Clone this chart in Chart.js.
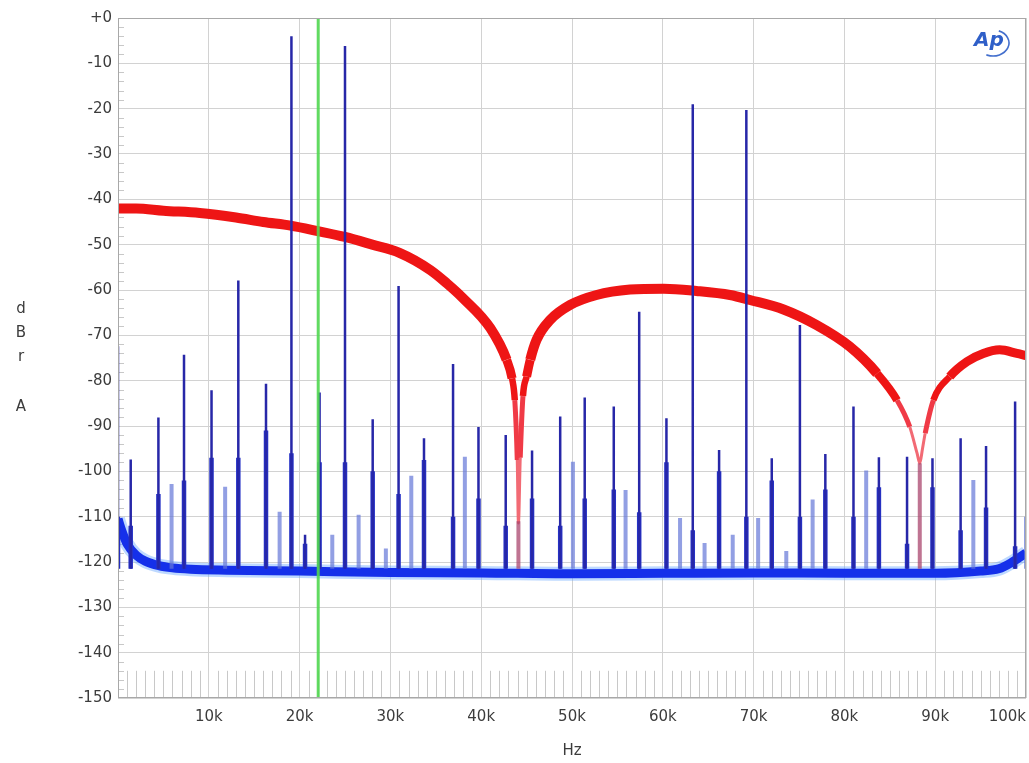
<!DOCTYPE html>
<html>
<head>
<meta charset="utf-8">
<script src="https://cdn.jsdelivr.net/npm/chart.js@4.4.1/dist/chart.umd.min.js"></script>
<style>
  html, body { margin: 0; padding: 0; background: #fff; }
  #wrap { width: 1029px; height: 763px; }
</style>
</head>
<body>
<div id="wrap"><canvas id="fft" width="1029" height="763"></canvas></div>
<script>
// values: frequencies in kHz, levels in dBrA

// red trace (noise band with nulls at 44.1k / 88.2k)
const redFreqs  = [0, 2, 5, 9, 13, 16, 19, 22, 25, 28, 31, 34.4, 36.2, 38, 41, 42.8, 43.4, 43.7, 43.97, 44.1, 44.3, 44.6, 45.0, 45.4, 46.1, 47.6, 49.8, 52.7, 56.4, 60.1, 63.7, 67.4, 69.6, 73.3, 76.9, 80.6, 83.6, 85.8, 87.2, 88.0, 88.3, 88.6, 88.9, 89.8, 91.6, 93.5, 95.3, 97.1, 99, 100];
const redLevels = [-42, -42, -42.5, -43, -44, -45, -45.8, -47, -48.3, -50, -51.8, -55.6, -58.5, -61.8, -68.4, -75.4, -79.5, -84.3, -97.5, -111.4, -97, -83.4, -79.1, -75.4, -71, -66.6, -63.3, -61.1, -59.9, -59.7, -60.2, -61.1, -62.2, -64.3, -67.7, -72.5, -78.4, -84.3, -90.2, -96, -98.2, -95, -91.6, -84.3, -79.1, -75.8, -74, -73.2, -74, -74.5];
const redDc = [-42, -33.5];

// blue noise floor
const floorFreqs  = [0, 0.4, 1, 2, 3, 4.5, 6, 8, 12, 20, 30, 40, 50, 60, 70, 80, 90, 95, 97, 98.5, 100];
const floorLevels = [-110.5, -113, -116, -118.5, -119.8, -120.8, -121.3, -121.6, -121.8, -122, -122.3, -122.4, -122.6, -122.5, -122.4, -122.5, -122.5, -122, -121.5, -120, -118];

// main (dark) spikes and the wider skirt at their base
const spikeFreqs  = [0, 1.4, 4.45, 7.27, 10.3, 13.25, 16.3, 19.1, 20.6, 22.2, 25.0, 28.05, 30.9, 33.7, 36.9, 39.7, 42.7, 45.6, 48.7, 51.4, 54.6, 57.4, 60.4, 63.3, 66.2, 69.2, 72.0, 75.1, 77.9, 81.0, 83.8, 86.9, 89.7, 92.8, 95.6, 98.8];
const spikeLevels = [-72.4, -97.4, -88.1, -74.3, -82.1, -57.9, -80.7, -4.0, -114, -82.6, -6.2, -88.5, -59.1, -92.7, -76.3, -90.2, -92.0, -95.4, -87.9, -83.7, -85.7, -64.8, -88.3, -19.0, -95.3, -20.3, -97.1, -67.7, -96.2, -85.7, -96.9, -96.8, -97.1, -92.7, -94.4, -84.6];
const skirtLevels = [-110, -112, -105, -102, -97, -97, -91, -96, -116, -98, -98, -100, -105, -97.5, -110, -106, -112, -106, -112, -106, -104, -109, -98, -113, -100, -110, -102, -110, -104, -110, -103.5, -116, -103.5, -113, -108, -116.5];

// pale secondary spikes
const paleFreqs  = [5.9, 11.8, 17.8, 23.6, 26.5, 29.5, 32.3, 38.2, 50.1, 55.9, 61.9, 64.6, 67.7, 70.5, 73.6, 76.5, 82.4, 94.2, 100];
const paleLevels = [-102.8, -103.4, -108.9, -114, -109.6, -117, -101, -96.8, -97.9, -104.1, -110.3, -115.8, -114, -110.3, -117.6, -106.2, -99.8, -101.9, -110];

// residue inside the red nulls
const nullFreqs  = [44.1, 88.3];
const nullLevels = [-111, -98.2];

const markerFreq = 22.05;   // green cursor
const spikeBase = -121.5;

const xTicks = [0, 10, 20, 30, 40, 50, 60, 70, 80, 90, 100];
const yTicks = [0, -10, -20, -30, -40, -50, -60, -70, -80, -90, -100, -110, -120, -130, -140, -150];

const pts = (fs, ls) => fs.map((f, i) => ({ x: f * 1000, y: ls[i] }));
function stems(fs, tops, bases) {
  const out = [];
  fs.forEach((f, i) => {
    const b = Array.isArray(bases) ? bases[i] : bases;
    out.push({ x: f * 1000, y: b }, { x: f * 1000, y: tops[i] }, { x: f * 1000, y: null });
  });
  return out;
}

const FONT = 'DejaVu Sans';
const TXT = '#3c3c3c';

// red band gets thinner (and paler) as it dives into the nulls
const redTop = c => Math.max(c.p0.parsed.y, c.p1.parsed.y);
function redWidth(c) {
  const m = redTop(c);
  if (m < -90) return 3;
  if (m < -83) return 5;
  if (m < -79) return 6.5;
  if (m < -76) return 8;
  if (m < -73) return 9;
  return 10;
}
function redColor(c) {
  const m = redTop(c);
  if (m < -90) return '#f26a74';
  if (m < -83) return '#f03a46';
  return '#ee1515';
}

const decor = {
  id: 'decor',
  beforeDatasetsDraw(chart) {
    const { ctx, chartArea: a, scales: { x, y } } = chart;
    ctx.save();
    ctx.strokeStyle = '#c8c8c8';
    ctx.lineWidth = 1;
    ctx.beginPath();
    for (let k = 1; k < 100; k++) {
      if (k % 10 === 0) continue;
      const px = Math.round(x.getPixelForValue(k * 1000)) + 0.5;
      ctx.moveTo(px, y.getPixelForValue(-150));
      ctx.lineTo(px, y.getPixelForValue(-144));
    }
    for (let d = -148; d < 0; d += 2) {
      if (d % 10 === 0) continue;
      const py = Math.round(y.getPixelForValue(d)) + 0.5;
      ctx.moveTo(a.left, py);
      ctx.lineTo(a.left + 6, py);
    }
    ctx.stroke();
    ctx.restore();
  },
  afterDraw(chart) {
    const { ctx, chartArea: a } = chart;
    ctx.save();
    ctx.strokeStyle = '#a8a8a8';
    ctx.lineWidth = 1;
    ctx.strokeRect(a.left + 0.5, a.top + 0.5, a.right - a.left - 1, a.bottom - a.top - 1);

    ctx.fillStyle = TXT;
    ctx.font = '15px ' + FONT;
    ctx.textAlign = 'center';
    ctx.textBaseline = 'middle';
    [['d', 309], ['B', 333], ['r', 357], ['A', 407]].forEach(([t, yy]) => ctx.fillText(t, 21, yy));
    ctx.fillText('Hz', (a.left + a.right) / 2, 751);

    // AP logo
    ctx.fillStyle = '#2f5fc8';
    ctx.font = 'italic bold 20px ' + FONT;
    ctx.fillText('Ap', 989, 41);
    ctx.strokeStyle = 'rgba(47,95,200,0.9)';
    ctx.lineWidth = 1.6;
    ctx.beginPath();
    ctx.ellipse(993, 43, 16, 13, 0, -1.2, 2.0);
    ctx.stroke();
    ctx.restore();
  }
};

new Chart(document.getElementById('fft'), {
  type: 'line',
  data: {
    datasets: [
      { data: [{ x: markerFreq * 1000, y: 0 }, { x: markerFreq * 1000, y: -150 }],
        borderColor: 'rgba(80,215,80,0.9)', borderWidth: 3 },
      { data: stems(spikeFreqs, spikeLevels, spikeBase),
        borderColor: '#2727a8', borderWidth: 2.5, spanGaps: false },
      { data: stems(spikeFreqs, skirtLevels, spikeBase),
        borderColor: '#2632c6', borderWidth: 4.5, spanGaps: false },
      { data: stems(paleFreqs, paleLevels, spikeBase),
        borderColor: 'rgba(100,118,215,0.7)', borderWidth: 4, spanGaps: false },
      { data: stems(nullFreqs, nullLevels, spikeBase),
        borderColor: 'rgba(170,70,110,0.75)', borderWidth: 4, spanGaps: false },
      { data: pts(floorFreqs, floorLevels),
        borderColor: '#1530ea', borderWidth: 9, cubicInterpolationMode: 'monotone' },
      { data: pts(floorFreqs, floorLevels),
        borderColor: 'rgba(110,170,255,0.45)', borderWidth: 14, cubicInterpolationMode: 'monotone' },
      { data: [{ x: 0, y: redDc[0] }, { x: 0, y: redDc[1] }],
        borderColor: '#b02020', borderWidth: 2 },
      { data: pts(redFreqs, redLevels),
        borderColor: '#ee1515', borderWidth: 10, cubicInterpolationMode: 'monotone',
        borderCapStyle: 'butt', borderJoinStyle: 'round',
        segment: { borderWidth: redWidth, borderColor: redColor } }
    ]
  },
  options: {
    responsive: false,
    animation: false,
    events: [],
    elements: { point: { radius: 0 }, line: { borderCapStyle: 'butt', tension: 0 } },
    layout: { padding: { top: 18, right: 3, left: 0, bottom: 0 } },
    plugins: { legend: { display: false }, tooltip: { enabled: false } },
    scales: {
      x: {
        type: 'linear', min: 0, max: 100000,
        afterFit: s => { s.height = 65; s.paddingLeft = 0; s.paddingRight = 0; },
        afterBuildTicks: s => { s.ticks = xTicks.map(v => ({ value: v * 1000 })); },
        grid: { color: '#d2d2d2', drawTicks: false },
        border: { display: false },
        ticks: {
          align: 'inner', padding: 10, autoSkip: false, maxRotation: 0,
          color: TXT, font: { family: FONT, size: 15 },
          callback: v => v === 0 ? '' : (v / 1000) + 'k'
        }
      },
      y: {
        min: -150, max: 0,
        afterFit: s => { s.width = 118; },
        afterBuildTicks: s => { s.ticks = yTicks.map(v => ({ value: v })); },
        grid: { color: '#d2d2d2', drawTicks: false },
        border: { display: false },
        ticks: {
          padding: 6, color: TXT, font: { family: FONT, size: 15 },
          callback: v => v === 0 ? '+0' : String(v)
        }
      }
    }
  },
  plugins: [decor]
});
</script>
</body>
</html>
